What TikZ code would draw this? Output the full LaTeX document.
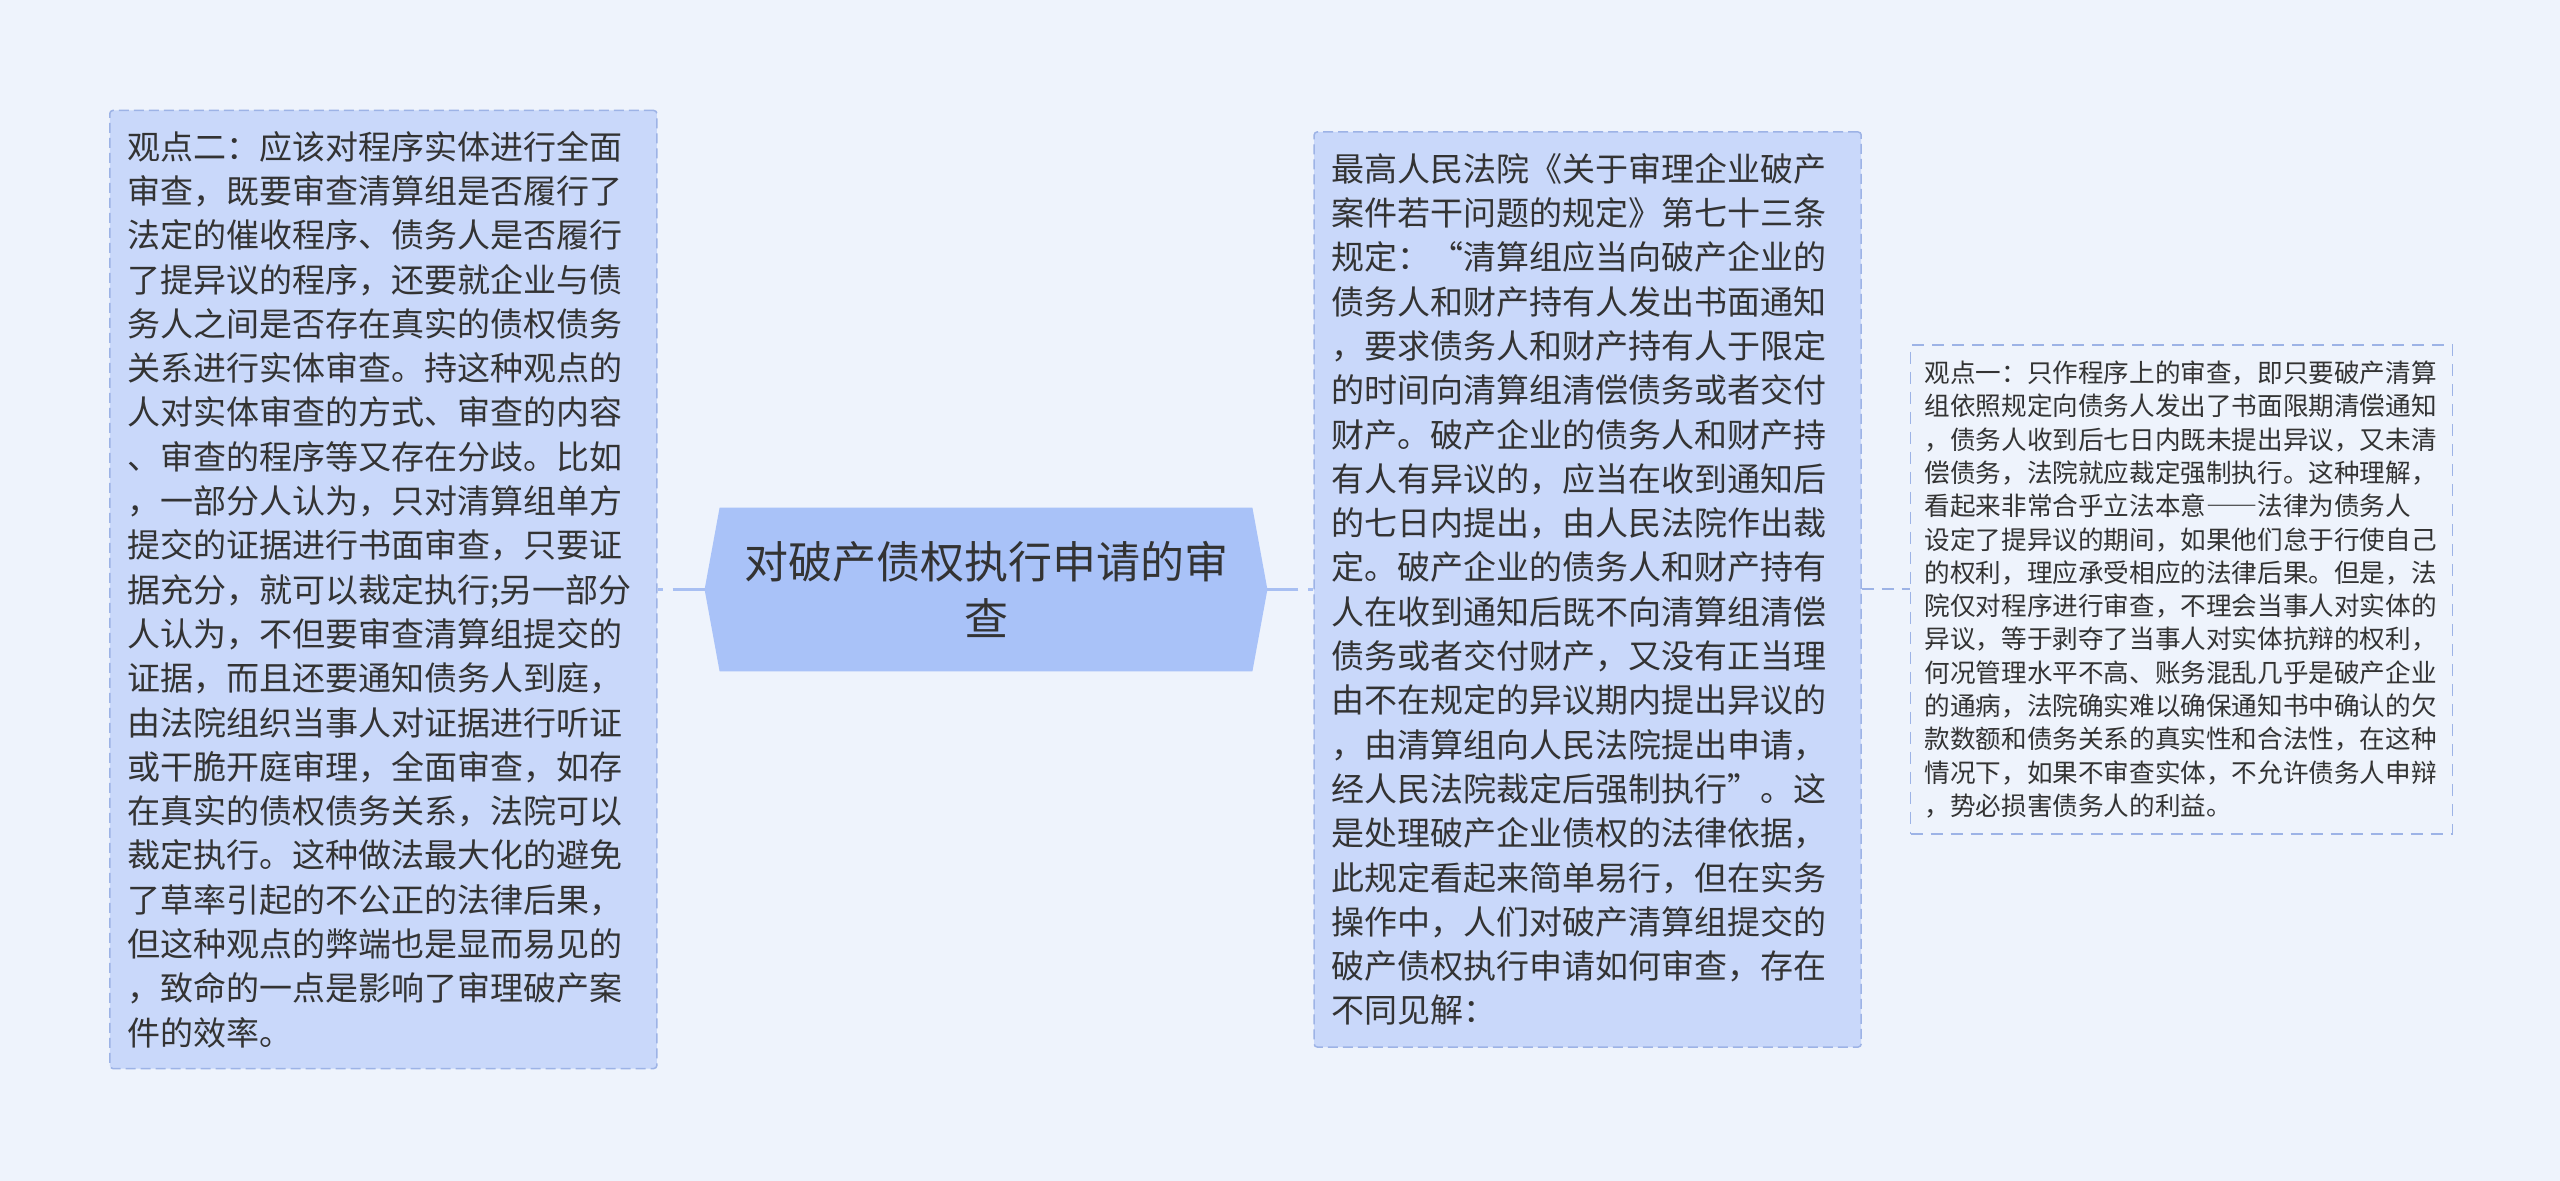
\documentclass[tikz,border=0pt]{standalone}
\usepackage{fontspec}
\setmainfont{Noto Sans CJK SC}
\newfontfamily\fullwidth[CharacterWidth=Full]{Noto Sans CJK SC}
\usetikzlibrary{positioning,calc,backgrounds}
\definecolor{bgcol}{HTML}{EEF3FC}
\definecolor{boxcol}{HTML}{C9D8FA}
\definecolor{rootcol}{HTML}{A9C2F8}
\definecolor{linkcol}{HTML}{A8BFF2}
\definecolor{edgecol}{HTML}{9DB3E6}
\definecolor{txtcol}{HTML}{333333}
\tikzset{
every node/.style={text=txtcol}, % dark grey text everywhere
rootnode/.style={minimum width=266pt, minimum height=81.5pt, inner sep=0pt, align=center,
  font=\fontsize{22}{28.5}\selectfont},
topicbox/.style={draw=edgecol, line width=0.75pt, dash pattern=on 5pt off 2.5pt, fill=boxcol,
  rounded corners=1.5pt, text width=256pt, inner xsep=8.75pt, align=left,
  font=\fontsize{16.5}{22.15}\selectfont},
notebox/.style={draw=edgecol, line width=0.75pt, dash pattern=on 6pt off 4pt, fill=bgcol,
  minimum width=271pt, minimum height=244.5pt, text width=257pt, inner xsep=7pt, align=left,
  font=\fontsize{12.8}{16.65}\selectfont},
link/.style={draw=linkcol, line width=1.75pt, dash pattern=on 2.5pt off 5pt on 60pt},
notelink/.style={draw=edgecol, line width=1pt, dash pattern=on 6pt off 4pt},
}
\begin{document}
\begin{tikzpicture}[x=0.5pt,y=-0.5pt]
\node[rootnode] (root) at (986,589.5) {对破产债权执行申请的审\\查};
\node[topicbox, minimum height=479pt, left=31pt of root] (lbox) {观点二：应该对程序实体进行全面\\审查，既要审查清算组是否履行了\\法定的催收程序、债务人是否履行\\了提异议的程序，还要就企业与债\\务人之间是否存在真实的债权债务\\关系进行实体审查。持这种观点的\\人对实体审查的方式、审查的内容\\、审查的程序等又存在分歧。比如\\，一部分人认为，只对清算组单方\\提交的证据进行书面审查，只要证\\据充分，就可以裁定执行;另一部分\\人认为，不但要审查清算组提交的\\证据，而且还要通知债务人到庭，\\由法院组织当事人对证据进行听证\\或干脆开庭审理，全面审查，如存\\在真实的债权债务关系，法院可以\\裁定执行。这种做法最大化的避免\\了草率引起的不公正的法律后果，\\但这种观点的弊端也是显而易见的\\，致命的一点是影响了审理破产案\\件的效率。};
\node[topicbox, minimum height=457.5pt, right=30.5pt of root] (mbox) {最高人民法院《关于审理企业破产\\案件若干问题的规定》第七十三条\\规定：“清算组应当向破产企业的\\债务人和财产持有人发出书面通知\\，要求债务人和财产持有人于限定\\的时间向清算组清偿债务或者交付\\财产。破产企业的债务人和财产持\\有人有异议的，应当在收到通知后\\的七日内提出，由人民法院作出裁\\定。破产企业的债务人和财产持有\\人在收到通知后既不向清算组清偿\\债务或者交付财产，又没有正当理\\由不在规定的异议期内提出异议的\\，由清算组向人民法院提出申请，\\经人民法院裁定后强制执行”。这\\是处理破产企业债权的法律依据，\\此规定看起来简单易行，但在实务\\操作中，人们对破产清算组提交的\\破产债权执行申请如何审查，存在\\不同见解：};
\node[notebox, right=24pt of mbox] (rbox) {观点一：只作程序上的审查，即只要破产清算\\组依照规定向债务人发出了书面限期清偿通知\\，债务人收到后七日内既未提出异议，又未清\\偿债务，法院就应裁定强制执行。这种理解，\\看起来非常合乎立法本意{\fullwidth ——}法律为债务人\\设定了提异议的期间，如果他们怠于行使自己\\的权利，理应承受相应的法律后果。但是，法\\院仅对程序进行审查，不理会当事人对实体的\\异议，等于剥夺了当事人对实体抗辩的权利，\\何况管理水平不高、账务混乱几乎是破产企业\\的通病，法院确实难以确保通知书中确认的欠\\款数额和债务关系的真实性和合法性，在这种\\情况下，如果不审查实体，不允许债务人申辩\\，势必损害债务人的利益。};
\coordinate (rootL) at ($(root.west)+(-15,0)$);
\coordinate (rootR) at ($(root.east)+(15,0)$);
\begin{pgfonlayer}{background}
\fill[bgcol] (0,0) rectangle (2560,1181);
\fill[rootcol] (root.north west) -- (root.north east) -- (rootR) -- (root.south east)
  -- (root.south west) -- (rootL) -- cycle;
\end{pgfonlayer}
\draw[link] (lbox) -- (rootL);
\draw[link] (mbox) -- (rootR);
\draw[notelink] (mbox) -- (rbox);
\useasboundingbox (0,0) rectangle (2560,1181);
\end{tikzpicture}
\end{document}
